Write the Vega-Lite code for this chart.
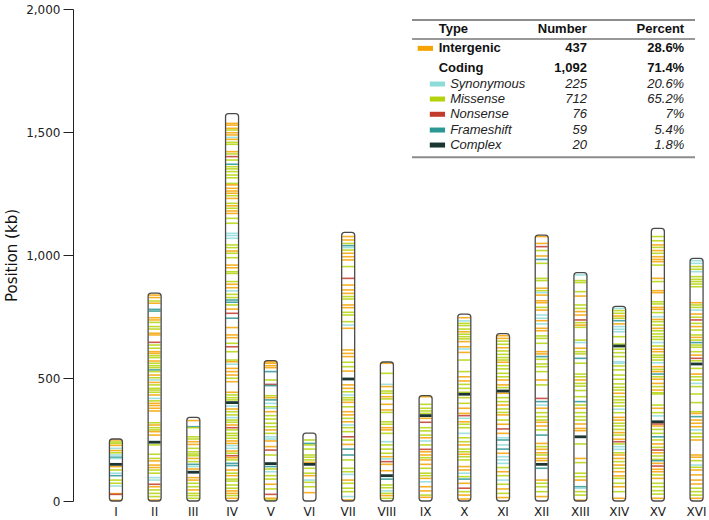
{
"$schema":"https://vega.github.io/schema/vega-lite/v6.json",
"width":636,"height":492,"autosize":"none",
"padding":{"left":73,"top":9,"right":0,"bottom":19},
"background":"white",
"config":{"view":{"stroke":null},"font":"DejaVu Sans"},
"datasets":{
"chr":[{"c":"I","len":252},{"c":"II","len":845},{"c":"III","len":340},{"c":"IV","len":1575},{"c":"V","len":571},{"c":"VI","len":276},{"c":"VII","len":1092},{"c":"VIII","len":565},{"c":"IX","len":428},{"c":"X","len":760},{"c":"XI","len":680},{"c":"XII","len":1081},{"c":"XIII","len":928},{"c":"XIV","len":791},{"c":"XV","len":1108},{"c":"XVI","len":986}],
"mut":[
{"c":"I","p":248,"t":"G"},{"c":"I","p":240,"t":"M"},{"c":"I","p":234,"t":"M"},{"c":"I","p":226,"t":"G"},{"c":"I","p":214,"t":"S"},{"c":"I","p":205,"t":"G"},{"c":"I","p":196,"t":"M"},{"c":"I","p":187,"t":"S"},{"c":"I","p":178,"t":"F"},{"c":"I","p":173,"t":"S"},{"c":"I","p":149,"t":"C"},{"c":"I","p":140,"t":"G"},{"c":"I","p":126,"t":"M"},{"c":"I","p":113,"t":"S"},{"c":"I","p":103,"t":"F"},{"c":"I","p":85,"t":"M"},{"c":"I","p":72,"t":"M"},{"c":"I","p":61,"t":"S"},{"c":"I","p":30,"t":"G"},{"c":"I","p":27,"t":"N"},{"c":"I","p":3,"t":"G"},
{"c":"II","p":837,"t":"G"},{"c":"II","p":827,"t":"G"},{"c":"II","p":813,"t":"M"},{"c":"II","p":804,"t":"G"},{"c":"II","p":779,"t":"F"},{"c":"II","p":772,"t":"F"},{"c":"II","p":745,"t":"G"},{"c":"II","p":736,"t":"G"},{"c":"II","p":726,"t":"M"},{"c":"II","p":709,"t":"M"},{"c":"II","p":699,"t":"M"},{"c":"II","p":682,"t":"G"},{"c":"II","p":675,"t":"G"},{"c":"II","p":645,"t":"N"},{"c":"II","p":634,"t":"M"},{"c":"II","p":621,"t":"M"},{"c":"II","p":607,"t":"G"},{"c":"II","p":600,"t":"G"},{"c":"II","p":591,"t":"M"},{"c":"II","p":583,"t":"M"},{"c":"II","p":569,"t":"G"},{"c":"II","p":560,"t":"M"},{"c":"II","p":550,"t":"M"},{"c":"II","p":542,"t":"M"},{"c":"II","p":533,"t":"F"},{"c":"II","p":526,"t":"M"},{"c":"II","p":512,"t":"G"},{"c":"II","p":501,"t":"M"},{"c":"II","p":492,"t":"S"},{"c":"II","p":482,"t":"G"},{"c":"II","p":472,"t":"M"},{"c":"II","p":458,"t":"M"},{"c":"II","p":451,"t":"M"},{"c":"II","p":442,"t":"M"},{"c":"II","p":431,"t":"G"},{"c":"II","p":417,"t":"S"},{"c":"II","p":407,"t":"M"},{"c":"II","p":397,"t":"G"},{"c":"II","p":388,"t":"G"},{"c":"II","p":377,"t":"G"},{"c":"II","p":366,"t":"G"},{"c":"II","p":318,"t":"M"},{"c":"II","p":309,"t":"G"},{"c":"II","p":298,"t":"M"},{"c":"II","p":289,"t":"M"},{"c":"II","p":282,"t":"G"},{"c":"II","p":268,"t":"G"},{"c":"II","p":239,"t":"C"},{"c":"II","p":228,"t":"M"},{"c":"II","p":190,"t":"M"},{"c":"II","p":173,"t":"M"},{"c":"II","p":163,"t":"G"},{"c":"II","p":146,"t":"G"},{"c":"II","p":136,"t":"G"},{"c":"II","p":126,"t":"M"},{"c":"II","p":113,"t":"M"},{"c":"II","p":95,"t":"S"},{"c":"II","p":85,"t":"S"},{"c":"II","p":68,"t":"N"},{"c":"II","p":58,"t":"G"},{"c":"II","p":45,"t":"M"},{"c":"II","p":31,"t":"M"},{"c":"II","p":18,"t":"M"},{"c":"II","p":4,"t":"G"},
{"c":"III","p":327,"t":"G"},{"c":"III","p":302,"t":"F"},{"c":"III","p":298,"t":"M"},{"c":"III","p":261,"t":"M"},{"c":"III","p":252,"t":"M"},{"c":"III","p":241,"t":"G"},{"c":"III","p":230,"t":"G"},{"c":"III","p":214,"t":"M"},{"c":"III","p":200,"t":"M"},{"c":"III","p":191,"t":"M"},{"c":"III","p":184,"t":"M"},{"c":"III","p":173,"t":"G"},{"c":"III","p":160,"t":"M"},{"c":"III","p":149,"t":"F"},{"c":"III","p":140,"t":"S"},{"c":"III","p":130,"t":"G"},{"c":"III","p":117,"t":"C"},{"c":"III","p":95,"t":"G"},{"c":"III","p":85,"t":"G"},{"c":"III","p":72,"t":"M"},{"c":"III","p":58,"t":"M"},{"c":"III","p":45,"t":"G"},{"c":"III","p":31,"t":"M"},{"c":"III","p":22,"t":"M"},{"c":"III","p":11,"t":"M"},
{"c":"IV","p":1535,"t":"G"},{"c":"IV","p":1528,"t":"G"},{"c":"IV","p":1515,"t":"G"},{"c":"IV","p":1508,"t":"M"},{"c":"IV","p":1497,"t":"G"},{"c":"IV","p":1488,"t":"G"},{"c":"IV","p":1478,"t":"S"},{"c":"IV","p":1470,"t":"G"},{"c":"IV","p":1458,"t":"M"},{"c":"IV","p":1450,"t":"M"},{"c":"IV","p":1420,"t":"G"},{"c":"IV","p":1411,"t":"M"},{"c":"IV","p":1400,"t":"N"},{"c":"IV","p":1386,"t":"M"},{"c":"IV","p":1369,"t":"F"},{"c":"IV","p":1359,"t":"M"},{"c":"IV","p":1350,"t":"M"},{"c":"IV","p":1339,"t":"M"},{"c":"IV","p":1325,"t":"M"},{"c":"IV","p":1314,"t":"M"},{"c":"IV","p":1291,"t":"M"},{"c":"IV","p":1285,"t":"G"},{"c":"IV","p":1271,"t":"G"},{"c":"IV","p":1260,"t":"G"},{"c":"IV","p":1251,"t":"G"},{"c":"IV","p":1241,"t":"M"},{"c":"IV","p":1230,"t":"G"},{"c":"IV","p":1210,"t":"M"},{"c":"IV","p":1200,"t":"G"},{"c":"IV","p":1190,"t":"M"},{"c":"IV","p":1179,"t":"G"},{"c":"IV","p":1169,"t":"G"},{"c":"IV","p":1149,"t":"M"},{"c":"IV","p":1129,"t":"M"},{"c":"IV","p":1088,"t":"S"},{"c":"IV","p":1079,"t":"S"},{"c":"IV","p":1068,"t":"S"},{"c":"IV","p":1041,"t":"M"},{"c":"IV","p":1030,"t":"M"},{"c":"IV","p":1016,"t":"G"},{"c":"IV","p":1007,"t":"M"},{"c":"IV","p":989,"t":"M"},{"c":"IV","p":959,"t":"G"},{"c":"IV","p":948,"t":"G"},{"c":"IV","p":932,"t":"M"},{"c":"IV","p":925,"t":"M"},{"c":"IV","p":892,"t":"M"},{"c":"IV","p":881,"t":"G"},{"c":"IV","p":867,"t":"G"},{"c":"IV","p":854,"t":"S"},{"c":"IV","p":840,"t":"M"},{"c":"IV","p":827,"t":"M"},{"c":"IV","p":817,"t":"F"},{"c":"IV","p":808,"t":"F"},{"c":"IV","p":797,"t":"M"},{"c":"IV","p":780,"t":"G"},{"c":"IV","p":763,"t":"N"},{"c":"IV","p":743,"t":"F"},{"c":"IV","p":705,"t":"G"},{"c":"IV","p":675,"t":"G"},{"c":"IV","p":664,"t":"G"},{"c":"IV","p":641,"t":"M"},{"c":"IV","p":627,"t":"N"},{"c":"IV","p":607,"t":"M"},{"c":"IV","p":573,"t":"M"},{"c":"IV","p":566,"t":"G"},{"c":"IV","p":556,"t":"S"},{"c":"IV","p":539,"t":"G"},{"c":"IV","p":526,"t":"G"},{"c":"IV","p":512,"t":"G"},{"c":"IV","p":499,"t":"M"},{"c":"IV","p":485,"t":"G"},{"c":"IV","p":442,"t":"G"},{"c":"IV","p":431,"t":"M"},{"c":"IV","p":420,"t":"M"},{"c":"IV","p":411,"t":"M"},{"c":"IV","p":400,"t":"C"},{"c":"IV","p":386,"t":"S"},{"c":"IV","p":374,"t":"G"},{"c":"IV","p":363,"t":"M"},{"c":"IV","p":350,"t":"M"},{"c":"IV","p":339,"t":"S"},{"c":"IV","p":329,"t":"M"},{"c":"IV","p":320,"t":"M"},{"c":"IV","p":309,"t":"G"},{"c":"IV","p":298,"t":"N"},{"c":"IV","p":289,"t":"M"},{"c":"IV","p":275,"t":"M"},{"c":"IV","p":266,"t":"M"},{"c":"IV","p":255,"t":"M"},{"c":"IV","p":244,"t":"G"},{"c":"IV","p":234,"t":"G"},{"c":"IV","p":225,"t":"S"},{"c":"IV","p":214,"t":"S"},{"c":"IV","p":203,"t":"G"},{"c":"IV","p":194,"t":"M"},{"c":"IV","p":184,"t":"N"},{"c":"IV","p":176,"t":"G"},{"c":"IV","p":167,"t":"M"},{"c":"IV","p":153,"t":"F"},{"c":"IV","p":144,"t":"F"},{"c":"IV","p":126,"t":"G"},{"c":"IV","p":113,"t":"M"},{"c":"IV","p":103,"t":"G"},{"c":"IV","p":89,"t":"M"},{"c":"IV","p":81,"t":"M"},{"c":"IV","p":65,"t":"M"},{"c":"IV","p":52,"t":"M"},{"c":"IV","p":41,"t":"G"},{"c":"IV","p":31,"t":"G"},{"c":"IV","p":22,"t":"M"},{"c":"IV","p":11,"t":"G"},
{"c":"V","p":566,"t":"G"},{"c":"V","p":560,"t":"G"},{"c":"V","p":550,"t":"G"},{"c":"V","p":542,"t":"G"},{"c":"V","p":526,"t":"F"},{"c":"V","p":492,"t":"M"},{"c":"V","p":474,"t":"N"},{"c":"V","p":469,"t":"F"},{"c":"V","p":428,"t":"M"},{"c":"V","p":420,"t":"G"},{"c":"V","p":411,"t":"F"},{"c":"V","p":397,"t":"S"},{"c":"V","p":383,"t":"M"},{"c":"V","p":377,"t":"S"},{"c":"V","p":363,"t":"G"},{"c":"V","p":347,"t":"M"},{"c":"V","p":333,"t":"M"},{"c":"V","p":316,"t":"M"},{"c":"V","p":302,"t":"M"},{"c":"V","p":289,"t":"G"},{"c":"V","p":275,"t":"M"},{"c":"V","p":261,"t":"S"},{"c":"V","p":252,"t":"S"},{"c":"V","p":244,"t":"G"},{"c":"V","p":221,"t":"G"},{"c":"V","p":207,"t":"N"},{"c":"V","p":187,"t":"M"},{"c":"V","p":152,"t":"C"},{"c":"V","p":140,"t":"F"},{"c":"V","p":130,"t":"M"},{"c":"V","p":119,"t":"S"},{"c":"V","p":103,"t":"M"},{"c":"V","p":89,"t":"M"},{"c":"V","p":68,"t":"G"},{"c":"V","p":49,"t":"M"},{"c":"V","p":27,"t":"N"},{"c":"V","p":11,"t":"G"},{"c":"V","p":4,"t":"M"},
{"c":"VI","p":248,"t":"M"},{"c":"VI","p":234,"t":"F"},{"c":"VI","p":228,"t":"M"},{"c":"VI","p":211,"t":"M"},{"c":"VI","p":187,"t":"M"},{"c":"VI","p":178,"t":"M"},{"c":"VI","p":167,"t":"M"},{"c":"VI","p":157,"t":"G"},{"c":"VI","p":149,"t":"C"},{"c":"VI","p":133,"t":"M"},{"c":"VI","p":113,"t":"M"},{"c":"VI","p":103,"t":"G"},{"c":"VI","p":85,"t":"S"},{"c":"VI","p":76,"t":"M"},{"c":"VI","p":58,"t":"M"},{"c":"VI","p":34,"t":"G"},
{"c":"VII","p":1075,"t":"G"},{"c":"VII","p":1061,"t":"G"},{"c":"VII","p":1047,"t":"M"},{"c":"VII","p":1038,"t":"F"},{"c":"VII","p":1030,"t":"S"},{"c":"VII","p":1020,"t":"M"},{"c":"VII","p":1007,"t":"G"},{"c":"VII","p":993,"t":"G"},{"c":"VII","p":980,"t":"G"},{"c":"VII","p":953,"t":"M"},{"c":"VII","p":905,"t":"N"},{"c":"VII","p":878,"t":"G"},{"c":"VII","p":858,"t":"G"},{"c":"VII","p":844,"t":"G"},{"c":"VII","p":831,"t":"M"},{"c":"VII","p":821,"t":"M"},{"c":"VII","p":797,"t":"G"},{"c":"VII","p":786,"t":"G"},{"c":"VII","p":767,"t":"M"},{"c":"VII","p":756,"t":"M"},{"c":"VII","p":729,"t":"M"},{"c":"VII","p":715,"t":"S"},{"c":"VII","p":702,"t":"G"},{"c":"VII","p":614,"t":"G"},{"c":"VII","p":600,"t":"G"},{"c":"VII","p":587,"t":"G"},{"c":"VII","p":564,"t":"M"},{"c":"VII","p":546,"t":"M"},{"c":"VII","p":528,"t":"G"},{"c":"VII","p":496,"t":"C"},{"c":"VII","p":472,"t":"G"},{"c":"VII","p":458,"t":"G"},{"c":"VII","p":444,"t":"M"},{"c":"VII","p":431,"t":"S"},{"c":"VII","p":420,"t":"M"},{"c":"VII","p":411,"t":"M"},{"c":"VII","p":401,"t":"G"},{"c":"VII","p":383,"t":"M"},{"c":"VII","p":363,"t":"G"},{"c":"VII","p":350,"t":"G"},{"c":"VII","p":336,"t":"M"},{"c":"VII","p":322,"t":"G"},{"c":"VII","p":309,"t":"S"},{"c":"VII","p":298,"t":"M"},{"c":"VII","p":282,"t":"M"},{"c":"VII","p":261,"t":"N"},{"c":"VII","p":248,"t":"M"},{"c":"VII","p":230,"t":"G"},{"c":"VII","p":211,"t":"F"},{"c":"VII","p":187,"t":"F"},{"c":"VII","p":167,"t":"M"},{"c":"VII","p":133,"t":"M"},{"c":"VII","p":119,"t":"M"},{"c":"VII","p":108,"t":"S"},{"c":"VII","p":85,"t":"G"},{"c":"VII","p":72,"t":"M"},{"c":"VII","p":52,"t":"M"},{"c":"VII","p":38,"t":"M"},{"c":"VII","p":18,"t":"S"},{"c":"VII","p":4,"t":"G"},
{"c":"VIII","p":560,"t":"G"},{"c":"VIII","p":519,"t":"M"},{"c":"VIII","p":474,"t":"S"},{"c":"VIII","p":465,"t":"G"},{"c":"VIII","p":447,"t":"M"},{"c":"VIII","p":438,"t":"M"},{"c":"VIII","p":424,"t":"G"},{"c":"VIII","p":415,"t":"M"},{"c":"VIII","p":393,"t":"G"},{"c":"VIII","p":370,"t":"G"},{"c":"VIII","p":360,"t":"M"},{"c":"VIII","p":322,"t":"M"},{"c":"VIII","p":312,"t":"M"},{"c":"VIII","p":298,"t":"G"},{"c":"VIII","p":289,"t":"G"},{"c":"VIII","p":275,"t":"M"},{"c":"VIII","p":241,"t":"S"},{"c":"VIII","p":228,"t":"M"},{"c":"VIII","p":211,"t":"M"},{"c":"VIII","p":194,"t":"M"},{"c":"VIII","p":180,"t":"G"},{"c":"VIII","p":171,"t":"S"},{"c":"VIII","p":160,"t":"N"},{"c":"VIII","p":149,"t":"G"},{"c":"VIII","p":123,"t":"G"},{"c":"VIII","p":103,"t":"C"},{"c":"VIII","p":89,"t":"F"},{"c":"VIII","p":65,"t":"M"},{"c":"VIII","p":54,"t":"M"},{"c":"VIII","p":41,"t":"S"},{"c":"VIII","p":31,"t":"M"},{"c":"VIII","p":22,"t":"G"},{"c":"VIII","p":11,"t":"M"},
{"c":"IX","p":424,"t":"G"},{"c":"IX","p":393,"t":"M"},{"c":"IX","p":377,"t":"M"},{"c":"IX","p":366,"t":"M"},{"c":"IX","p":356,"t":"M"},{"c":"IX","p":347,"t":"C"},{"c":"IX","p":336,"t":"G"},{"c":"IX","p":320,"t":"N"},{"c":"IX","p":298,"t":"M"},{"c":"IX","p":285,"t":"M"},{"c":"IX","p":268,"t":"M"},{"c":"IX","p":257,"t":"G"},{"c":"IX","p":244,"t":"S"},{"c":"IX","p":228,"t":"M"},{"c":"IX","p":210,"t":"N"},{"c":"IX","p":200,"t":"G"},{"c":"IX","p":187,"t":"G"},{"c":"IX","p":176,"t":"M"},{"c":"IX","p":167,"t":"G"},{"c":"IX","p":149,"t":"G"},{"c":"IX","p":133,"t":"M"},{"c":"IX","p":113,"t":"M"},{"c":"IX","p":103,"t":"M"},{"c":"IX","p":92,"t":"G"},{"c":"IX","p":78,"t":"S"},{"c":"IX","p":58,"t":"G"},{"c":"IX","p":41,"t":"G"},{"c":"IX","p":24,"t":"M"},{"c":"IX","p":15,"t":"G"},
{"c":"X","p":745,"t":"G"},{"c":"X","p":732,"t":"S"},{"c":"X","p":722,"t":"M"},{"c":"X","p":713,"t":"M"},{"c":"X","p":699,"t":"M"},{"c":"X","p":688,"t":"G"},{"c":"X","p":678,"t":"M"},{"c":"X","p":668,"t":"M"},{"c":"X","p":659,"t":"M"},{"c":"X","p":648,"t":"G"},{"c":"X","p":627,"t":"G"},{"c":"X","p":618,"t":"S"},{"c":"X","p":604,"t":"G"},{"c":"X","p":573,"t":"M"},{"c":"X","p":526,"t":"M"},{"c":"X","p":505,"t":"G"},{"c":"X","p":488,"t":"G"},{"c":"X","p":474,"t":"M"},{"c":"X","p":458,"t":"M"},{"c":"X","p":442,"t":"M"},{"c":"X","p":434,"t":"C"},{"c":"X","p":420,"t":"M"},{"c":"X","p":397,"t":"M"},{"c":"X","p":377,"t":"G"},{"c":"X","p":356,"t":"G"},{"c":"X","p":347,"t":"N"},{"c":"X","p":336,"t":"S"},{"c":"X","p":322,"t":"G"},{"c":"X","p":312,"t":"M"},{"c":"X","p":298,"t":"M"},{"c":"X","p":275,"t":"S"},{"c":"X","p":257,"t":"M"},{"c":"X","p":241,"t":"M"},{"c":"X","p":228,"t":"G"},{"c":"X","p":211,"t":"M"},{"c":"X","p":200,"t":"M"},{"c":"X","p":190,"t":"G"},{"c":"X","p":180,"t":"M"},{"c":"X","p":167,"t":"M"},{"c":"X","p":140,"t":"G"},{"c":"X","p":126,"t":"G"},{"c":"X","p":113,"t":"S"},{"c":"X","p":99,"t":"M"},{"c":"X","p":89,"t":"F"},{"c":"X","p":72,"t":"G"},{"c":"X","p":52,"t":"N"},{"c":"X","p":38,"t":"M"},{"c":"X","p":24,"t":"G"},{"c":"X","p":8,"t":"G"},
{"c":"XI","p":672,"t":"G"},{"c":"XI","p":661,"t":"G"},{"c":"XI","p":650,"t":"M"},{"c":"XI","p":637,"t":"M"},{"c":"XI","p":623,"t":"G"},{"c":"XI","p":610,"t":"M"},{"c":"XI","p":596,"t":"M"},{"c":"XI","p":583,"t":"M"},{"c":"XI","p":573,"t":"M"},{"c":"XI","p":564,"t":"G"},{"c":"XI","p":550,"t":"M"},{"c":"XI","p":537,"t":"M"},{"c":"XI","p":519,"t":"M"},{"c":"XI","p":505,"t":"M"},{"c":"XI","p":492,"t":"G"},{"c":"XI","p":472,"t":"G"},{"c":"XI","p":461,"t":"M"},{"c":"XI","p":447,"t":"C"},{"c":"XI","p":438,"t":"G"},{"c":"XI","p":420,"t":"M"},{"c":"XI","p":404,"t":"M"},{"c":"XI","p":390,"t":"G"},{"c":"XI","p":374,"t":"M"},{"c":"XI","p":360,"t":"M"},{"c":"XI","p":350,"t":"G"},{"c":"XI","p":329,"t":"M"},{"c":"XI","p":312,"t":"G"},{"c":"XI","p":293,"t":"N"},{"c":"XI","p":275,"t":"G"},{"c":"XI","p":257,"t":"S"},{"c":"XI","p":248,"t":"F"},{"c":"XI","p":228,"t":"S"},{"c":"XI","p":211,"t":"F"},{"c":"XI","p":194,"t":"G"},{"c":"XI","p":180,"t":"S"},{"c":"XI","p":167,"t":"S"},{"c":"XI","p":153,"t":"S"},{"c":"XI","p":136,"t":"M"},{"c":"XI","p":119,"t":"G"},{"c":"XI","p":103,"t":"M"},{"c":"XI","p":85,"t":"S"},{"c":"XI","p":68,"t":"M"},{"c":"XI","p":49,"t":"G"},{"c":"XI","p":31,"t":"M"},{"c":"XI","p":14,"t":"G"},
{"c":"XII","p":1075,"t":"G"},{"c":"XII","p":1047,"t":"G"},{"c":"XII","p":1034,"t":"N"},{"c":"XII","p":1018,"t":"M"},{"c":"XII","p":996,"t":"G"},{"c":"XII","p":982,"t":"F"},{"c":"XII","p":966,"t":"M"},{"c":"XII","p":905,"t":"M"},{"c":"XII","p":896,"t":"M"},{"c":"XII","p":865,"t":"G"},{"c":"XII","p":855,"t":"M"},{"c":"XII","p":847,"t":"S"},{"c":"XII","p":837,"t":"G"},{"c":"XII","p":814,"t":"G"},{"c":"XII","p":806,"t":"G"},{"c":"XII","p":787,"t":"M"},{"c":"XII","p":776,"t":"G"},{"c":"XII","p":756,"t":"S"},{"c":"XII","p":743,"t":"S"},{"c":"XII","p":733,"t":"G"},{"c":"XII","p":720,"t":"S"},{"c":"XII","p":702,"t":"G"},{"c":"XII","p":692,"t":"G"},{"c":"XII","p":671,"t":"M"},{"c":"XII","p":661,"t":"M"},{"c":"XII","p":641,"t":"M"},{"c":"XII","p":607,"t":"G"},{"c":"XII","p":598,"t":"G"},{"c":"XII","p":587,"t":"F"},{"c":"XII","p":576,"t":"M"},{"c":"XII","p":557,"t":"M"},{"c":"XII","p":546,"t":"M"},{"c":"XII","p":526,"t":"M"},{"c":"XII","p":492,"t":"G"},{"c":"XII","p":472,"t":"M"},{"c":"XII","p":417,"t":"N"},{"c":"XII","p":404,"t":"F"},{"c":"XII","p":390,"t":"S"},{"c":"XII","p":377,"t":"G"},{"c":"XII","p":359,"t":"M"},{"c":"XII","p":343,"t":"M"},{"c":"XII","p":329,"t":"M"},{"c":"XII","p":320,"t":"G"},{"c":"XII","p":305,"t":"G"},{"c":"XII","p":289,"t":"M"},{"c":"XII","p":268,"t":"F"},{"c":"XII","p":234,"t":"G"},{"c":"XII","p":221,"t":"M"},{"c":"XII","p":210,"t":"G"},{"c":"XII","p":196,"t":"G"},{"c":"XII","p":187,"t":"M"},{"c":"XII","p":173,"t":"G"},{"c":"XII","p":164,"t":"G"},{"c":"XII","p":149,"t":"C"},{"c":"XII","p":133,"t":"F"},{"c":"XII","p":85,"t":"G"},{"c":"XII","p":72,"t":"M"},{"c":"XII","p":58,"t":"M"},{"c":"XII","p":38,"t":"M"},{"c":"XII","p":18,"t":"G"},
{"c":"XIII","p":919,"t":"S"},{"c":"XIII","p":896,"t":"M"},{"c":"XIII","p":888,"t":"M"},{"c":"XIII","p":851,"t":"M"},{"c":"XIII","p":833,"t":"G"},{"c":"XIII","p":797,"t":"M"},{"c":"XIII","p":783,"t":"M"},{"c":"XIII","p":770,"t":"G"},{"c":"XIII","p":756,"t":"G"},{"c":"XIII","p":736,"t":"N"},{"c":"XIII","p":725,"t":"M"},{"c":"XIII","p":715,"t":"G"},{"c":"XIII","p":706,"t":"M"},{"c":"XIII","p":654,"t":"M"},{"c":"XIII","p":644,"t":"S"},{"c":"XIII","p":621,"t":"G"},{"c":"XIII","p":607,"t":"M"},{"c":"XIII","p":598,"t":"M"},{"c":"XIII","p":580,"t":"F"},{"c":"XIII","p":560,"t":"M"},{"c":"XIII","p":516,"t":"M"},{"c":"XIII","p":505,"t":"M"},{"c":"XIII","p":492,"t":"G"},{"c":"XIII","p":478,"t":"M"},{"c":"XIII","p":467,"t":"M"},{"c":"XIII","p":449,"t":"M"},{"c":"XIII","p":424,"t":"M"},{"c":"XIII","p":404,"t":"F"},{"c":"XIII","p":390,"t":"M"},{"c":"XIII","p":377,"t":"G"},{"c":"XIII","p":359,"t":"M"},{"c":"XIII","p":343,"t":"M"},{"c":"XIII","p":329,"t":"M"},{"c":"XIII","p":313,"t":"G"},{"c":"XIII","p":295,"t":"G"},{"c":"XIII","p":286,"t":"G"},{"c":"XIII","p":261,"t":"C"},{"c":"XIII","p":232,"t":"M"},{"c":"XIII","p":173,"t":"G"},{"c":"XIII","p":156,"t":"M"},{"c":"XIII","p":113,"t":"M"},{"c":"XIII","p":99,"t":"M"},{"c":"XIII","p":85,"t":"G"},{"c":"XIII","p":58,"t":"F"},{"c":"XIII","p":52,"t":"S"},{"c":"XIII","p":38,"t":"M"},{"c":"XIII","p":24,"t":"M"},{"c":"XIII","p":3,"t":"G"},
{"c":"XIV","p":783,"t":"S"},{"c":"XIV","p":774,"t":"M"},{"c":"XIV","p":763,"t":"M"},{"c":"XIV","p":752,"t":"G"},{"c":"XIV","p":743,"t":"M"},{"c":"XIV","p":733,"t":"F"},{"c":"XIV","p":720,"t":"G"},{"c":"XIV","p":709,"t":"S"},{"c":"XIV","p":698,"t":"S"},{"c":"XIV","p":688,"t":"S"},{"c":"XIV","p":668,"t":"M"},{"c":"XIV","p":638,"t":"M"},{"c":"XIV","p":630,"t":"C"},{"c":"XIV","p":617,"t":"M"},{"c":"XIV","p":603,"t":"M"},{"c":"XIV","p":587,"t":"M"},{"c":"XIV","p":566,"t":"S"},{"c":"XIV","p":560,"t":"S"},{"c":"XIV","p":549,"t":"M"},{"c":"XIV","p":533,"t":"M"},{"c":"XIV","p":512,"t":"M"},{"c":"XIV","p":495,"t":"M"},{"c":"XIV","p":476,"t":"M"},{"c":"XIV","p":462,"t":"M"},{"c":"XIV","p":451,"t":"M"},{"c":"XIV","p":438,"t":"G"},{"c":"XIV","p":424,"t":"M"},{"c":"XIV","p":411,"t":"M"},{"c":"XIV","p":400,"t":"M"},{"c":"XIV","p":386,"t":"M"},{"c":"XIV","p":373,"t":"S"},{"c":"XIV","p":359,"t":"M"},{"c":"XIV","p":340,"t":"G"},{"c":"XIV","p":329,"t":"G"},{"c":"XIV","p":316,"t":"M"},{"c":"XIV","p":305,"t":"M"},{"c":"XIV","p":291,"t":"M"},{"c":"XIV","p":278,"t":"G"},{"c":"XIV","p":268,"t":"M"},{"c":"XIV","p":251,"t":"G"},{"c":"XIV","p":241,"t":"N"},{"c":"XIV","p":232,"t":"M"},{"c":"XIV","p":221,"t":"S"},{"c":"XIV","p":210,"t":"S"},{"c":"XIV","p":196,"t":"M"},{"c":"XIV","p":187,"t":"G"},{"c":"XIV","p":173,"t":"G"},{"c":"XIV","p":160,"t":"M"},{"c":"XIV","p":146,"t":"G"},{"c":"XIV","p":133,"t":"M"},{"c":"XIV","p":119,"t":"G"},{"c":"XIV","p":102,"t":"G"},{"c":"XIV","p":92,"t":"M"},{"c":"XIV","p":72,"t":"M"},{"c":"XIV","p":58,"t":"G"},{"c":"XIV","p":38,"t":"M"},{"c":"XIV","p":11,"t":"G"},
{"c":"XV","p":1075,"t":"M"},{"c":"XV","p":1058,"t":"M"},{"c":"XV","p":1041,"t":"G"},{"c":"XV","p":1031,"t":"M"},{"c":"XV","p":1018,"t":"G"},{"c":"XV","p":1007,"t":"M"},{"c":"XV","p":993,"t":"G"},{"c":"XV","p":982,"t":"G"},{"c":"XV","p":973,"t":"G"},{"c":"XV","p":959,"t":"M"},{"c":"XV","p":905,"t":"G"},{"c":"XV","p":892,"t":"M"},{"c":"XV","p":855,"t":"G"},{"c":"XV","p":847,"t":"G"},{"c":"XV","p":810,"t":"M"},{"c":"XV","p":801,"t":"M"},{"c":"XV","p":787,"t":"G"},{"c":"XV","p":779,"t":"G"},{"c":"XV","p":766,"t":"M"},{"c":"XV","p":749,"t":"S"},{"c":"XV","p":738,"t":"G"},{"c":"XV","p":729,"t":"M"},{"c":"XV","p":715,"t":"M"},{"c":"XV","p":702,"t":"G"},{"c":"XV","p":692,"t":"M"},{"c":"XV","p":679,"t":"M"},{"c":"XV","p":668,"t":"M"},{"c":"XV","p":657,"t":"M"},{"c":"XV","p":644,"t":"S"},{"c":"XV","p":630,"t":"M"},{"c":"XV","p":617,"t":"G"},{"c":"XV","p":607,"t":"G"},{"c":"XV","p":593,"t":"M"},{"c":"XV","p":584,"t":"M"},{"c":"XV","p":573,"t":"M"},{"c":"XV","p":562,"t":"S"},{"c":"XV","p":546,"t":"G"},{"c":"XV","p":535,"t":"M"},{"c":"XV","p":526,"t":"G"},{"c":"XV","p":516,"t":"F"},{"c":"XV","p":505,"t":"M"},{"c":"XV","p":495,"t":"G"},{"c":"XV","p":478,"t":"G"},{"c":"XV","p":465,"t":"M"},{"c":"XV","p":451,"t":"G"},{"c":"XV","p":440,"t":"M"},{"c":"XV","p":435,"t":"M"},{"c":"XV","p":390,"t":"M"},{"c":"XV","p":377,"t":"G"},{"c":"XV","p":359,"t":"M"},{"c":"XV","p":346,"t":"S"},{"c":"XV","p":322,"t":"C"},{"c":"XV","p":313,"t":"N"},{"c":"XV","p":305,"t":"G"},{"c":"XV","p":291,"t":"M"},{"c":"XV","p":275,"t":"M"},{"c":"XV","p":261,"t":"F"},{"c":"XV","p":248,"t":"M"},{"c":"XV","p":232,"t":"G"},{"c":"XV","p":218,"t":"M"},{"c":"XV","p":207,"t":"N"},{"c":"XV","p":196,"t":"G"},{"c":"XV","p":183,"t":"M"},{"c":"XV","p":169,"t":"M"},{"c":"XV","p":164,"t":"F"},{"c":"XV","p":153,"t":"G"},{"c":"XV","p":142,"t":"N"},{"c":"XV","p":129,"t":"G"},{"c":"XV","p":119,"t":"G"},{"c":"XV","p":106,"t":"M"},{"c":"XV","p":92,"t":"G"},{"c":"XV","p":72,"t":"M"},{"c":"XV","p":58,"t":"M"},{"c":"XV","p":42,"t":"M"},{"c":"XV","p":28,"t":"M"},{"c":"XV","p":11,"t":"G"},
{"c":"XVI","p":977,"t":"S"},{"c":"XVI","p":966,"t":"S"},{"c":"XVI","p":953,"t":"M"},{"c":"XVI","p":942,"t":"M"},{"c":"XVI","p":932,"t":"S"},{"c":"XVI","p":912,"t":"M"},{"c":"XVI","p":901,"t":"M"},{"c":"XVI","p":892,"t":"M"},{"c":"XVI","p":882,"t":"M"},{"c":"XVI","p":871,"t":"M"},{"c":"XVI","p":806,"t":"G"},{"c":"XVI","p":797,"t":"M"},{"c":"XVI","p":787,"t":"M"},{"c":"XVI","p":776,"t":"S"},{"c":"XVI","p":760,"t":"G"},{"c":"XVI","p":747,"t":"M"},{"c":"XVI","p":736,"t":"N"},{"c":"XVI","p":722,"t":"M"},{"c":"XVI","p":709,"t":"G"},{"c":"XVI","p":695,"t":"M"},{"c":"XVI","p":675,"t":"M"},{"c":"XVI","p":665,"t":"G"},{"c":"XVI","p":654,"t":"M"},{"c":"XVI","p":644,"t":"F"},{"c":"XVI","p":634,"t":"M"},{"c":"XVI","p":625,"t":"M"},{"c":"XVI","p":607,"t":"M"},{"c":"XVI","p":593,"t":"G"},{"c":"XVI","p":580,"t":"N"},{"c":"XVI","p":570,"t":"M"},{"c":"XVI","p":557,"t":"C"},{"c":"XVI","p":539,"t":"M"},{"c":"XVI","p":516,"t":"G"},{"c":"XVI","p":505,"t":"M"},{"c":"XVI","p":492,"t":"M"},{"c":"XVI","p":478,"t":"S"},{"c":"XVI","p":465,"t":"M"},{"c":"XVI","p":435,"t":"M"},{"c":"XVI","p":400,"t":"M"},{"c":"XVI","p":363,"t":"M"},{"c":"XVI","p":356,"t":"G"},{"c":"XVI","p":343,"t":"F"},{"c":"XVI","p":329,"t":"G"},{"c":"XVI","p":316,"t":"G"},{"c":"XVI","p":302,"t":"G"},{"c":"XVI","p":289,"t":"S"},{"c":"XVI","p":275,"t":"M"},{"c":"XVI","p":261,"t":"M"},{"c":"XVI","p":248,"t":"G"},{"c":"XVI","p":187,"t":"G"},{"c":"XVI","p":178,"t":"G"},{"c":"XVI","p":164,"t":"M"},{"c":"XVI","p":146,"t":"S"},{"c":"XVI","p":137,"t":"M"},{"c":"XVI","p":126,"t":"G"},{"c":"XVI","p":106,"t":"G"},{"c":"XVI","p":85,"t":"G"},{"c":"XVI","p":69,"t":"G"},{"c":"XVI","p":52,"t":"M"},{"c":"XVI","p":38,"t":"M"},{"c":"XVI","p":24,"t":"M"},{"c":"XVI","p":11,"t":"G"}
]},
"layer":[
{"layer":[
{"data":{"name":"chr"},"mark":{"type":"bar","fill":"white","cornerRadius":3},
"encoding":{
"x":{"field":"c","type":"nominal","sort":null,"scale":{"domain":["I","II","III","IV","V","VI","VII","VIII","IX","X","XI","XII","XIII","XIV","XV","XVI"],"paddingInner":0.664,"paddingOuter":0.547,"align":0.86},"axis":{"title":null,"domain":false,"ticks":false,"grid":false,"labelFontSize":12,"labelPadding":5,"labelColor":"#222","labelFont":"DejaVu Sans","labelAngle":0}},
"y":{"field":"len","type":"quantitative","scale":{"domain":[0,2000],"nice":false},"axis":{"title":"Position (kb)","values":[0,500,1000,1500,2000],"format":",.0f","grid":false,"domainColor":"#222","tickColor":"#222","tickSize":10,"labelFontSize":12,"labelColor":"#222","labelPadding":3,"labelFlush":false,"labelFont":"DejaVu Sans","titleFont":"DejaVu Sans","titleFontSize":15,"titleFontWeight":"normal","titleColor":"#111","titlePadding":6}},
"y2":{"datum":0}}},
{"data":{"name":"mut"},"transform":[{"filter":"datum.t != 'C'"}],"mark":{"type":"tick","thickness":1.6,"size":12,"opacity":0.85},
"encoding":{
"x":{"field":"c","type":"nominal","sort":null,"scale":{"domain":["I","II","III","IV","V","VI","VII","VIII","IX","X","XI","XII","XIII","XIV","XV","XVI"],"paddingInner":0.664,"paddingOuter":0.547,"align":0.86},"axis":{"title":null,"domain":false,"ticks":false,"grid":false,"labelFontSize":12,"labelPadding":5,"labelColor":"#222","labelFont":"DejaVu Sans","labelAngle":0}},
"y":{"field":"p","type":"quantitative","scale":{"domain":[0,2000],"nice":false},"axis":{"title":"Position (kb)","values":[0,500,1000,1500,2000],"format":",.0f","grid":false,"domainColor":"#222","tickColor":"#222","tickSize":10,"labelFontSize":12,"labelColor":"#222","labelPadding":3,"labelFlush":false,"labelFont":"DejaVu Sans","titleFont":"DejaVu Sans","titleFontSize":15,"titleFontWeight":"normal","titleColor":"#111","titlePadding":6}},
"color":{"field":"t","type":"nominal","scale":{"domain":["G","S","M","N","F","C"],"range":["#F4A300","#8EDCDA","#B5D30C","#C23B2C","#2B9893","#1B3533"]},"legend":null}}},
{"data":{"name":"mut"},"transform":[{"filter":"datum.t == 'C'"}],"mark":{"type":"tick","thickness":2.8,"size":12,"opacity":1},
"encoding":{
"x":{"field":"c","type":"nominal","sort":null,"scale":{"domain":["I","II","III","IV","V","VI","VII","VIII","IX","X","XI","XII","XIII","XIV","XV","XVI"],"paddingInner":0.664,"paddingOuter":0.547,"align":0.86},"axis":{"title":null,"domain":false,"ticks":false,"grid":false,"labelFontSize":12,"labelPadding":5,"labelColor":"#222","labelFont":"DejaVu Sans","labelAngle":0}},
"y":{"field":"p","type":"quantitative","scale":{"domain":[0,2000],"nice":false},"axis":{"title":"Position (kb)","values":[0,500,1000,1500,2000],"format":",.0f","grid":false,"domainColor":"#222","tickColor":"#222","tickSize":10,"labelFontSize":12,"labelColor":"#222","labelPadding":3,"labelFlush":false,"labelFont":"DejaVu Sans","titleFont":"DejaVu Sans","titleFontSize":15,"titleFontWeight":"normal","titleColor":"#111","titlePadding":6}},
"color":{"field":"t","type":"nominal","scale":{"domain":["G","S","M","N","F","C"],"range":["#F4A300","#8EDCDA","#B5D30C","#C23B2C","#2B9893","#1B3533"]},"legend":null}}},
{"data":{"name":"chr"},"mark":{"type":"bar","fillOpacity":0,"fill":"white","stroke":"#4a4a4a","strokeWidth":1.3,"cornerRadius":3},
"encoding":{
"x":{"field":"c","type":"nominal","sort":null,"scale":{"domain":["I","II","III","IV","V","VI","VII","VIII","IX","X","XI","XII","XIII","XIV","XV","XVI"],"paddingInner":0.664,"paddingOuter":0.547,"align":0.86},"axis":{"title":null,"domain":false,"ticks":false,"grid":false,"labelFontSize":12,"labelPadding":5,"labelColor":"#222","labelFont":"DejaVu Sans","labelAngle":0}},
"y":{"field":"len","type":"quantitative","scale":{"domain":[0,2000],"nice":false},"axis":{"title":"Position (kb)","values":[0,500,1000,1500,2000],"format":",.0f","grid":false,"domainColor":"#222","tickColor":"#222","tickSize":10,"labelFontSize":12,"labelColor":"#222","labelPadding":3,"labelFlush":false,"labelFont":"DejaVu Sans","titleFont":"DejaVu Sans","titleFontSize":15,"titleFontWeight":"normal","titleColor":"#111","titlePadding":6}},
"y2":{"datum":0}}}
]},
{"layer":[
{"data":{"values":[{"y":1955},{"y":1397}]},"mark":{"type":"rule","strokeWidth":2,"color":"#8c8c8c"},
"encoding":{"x":{"datum":0.533,"type":"quantitative","scale":{"domain":[0,1],"nice":false,"zero":false},"axis":null},"x2":{"datum":0.978},"y":{"field":"y","type":"quantitative","scale":{"domain":[0,2000],"nice":false},"axis":{"title":"Position (kb)","values":[0,500,1000,1500,2000],"format":",.0f","grid":false,"domainColor":"#222","tickColor":"#222","tickSize":10,"labelFontSize":12,"labelColor":"#222","labelPadding":3,"labelFlush":false,"labelFont":"DejaVu Sans","titleFont":"DejaVu Sans","titleFontSize":15,"titleFontWeight":"normal","titleColor":"#111","titlePadding":6}}}},
{"data":{"values":[{"y":1878}]},"mark":{"type":"rule","strokeWidth":1,"color":"#333"},
"encoding":{"x":{"datum":0.533,"type":"quantitative","scale":{"domain":[0,1],"nice":false,"zero":false},"axis":null},"x2":{"datum":0.978},"y":{"field":"y","type":"quantitative","scale":{"domain":[0,2000],"nice":false},"axis":{"title":"Position (kb)","values":[0,500,1000,1500,2000],"format":",.0f","grid":false,"domainColor":"#222","tickColor":"#222","tickSize":10,"labelFontSize":12,"labelColor":"#222","labelPadding":3,"labelFlush":false,"labelFont":"DejaVu Sans","titleFont":"DejaVu Sans","titleFontSize":15,"titleFontWeight":"normal","titleColor":"#111","titlePadding":6}}}},
{"data":{"values":[{"t":"G","x":0.542,"x2":0.566,"y":1840},{"t":"S","x":0.561,"x2":0.585,"y":1695},{"t":"M","x":0.561,"x2":0.585,"y":1634},{"t":"N","x":0.561,"x2":0.585,"y":1572},{"t":"F","x":0.561,"x2":0.585,"y":1508},{"t":"C","x":0.561,"x2":0.585,"y":1447}]},"mark":{"type":"rule","strokeWidth":5},
"encoding":{"x":{"field":"x","type":"quantitative","scale":{"domain":[0,1],"nice":false,"zero":false},"axis":null},"x2":{"field":"x2"},"y":{"field":"y","type":"quantitative","scale":{"domain":[0,2000],"nice":false},"axis":{"title":"Position (kb)","values":[0,500,1000,1500,2000],"format":",.0f","grid":false,"domainColor":"#222","tickColor":"#222","tickSize":10,"labelFontSize":12,"labelColor":"#222","labelPadding":3,"labelFlush":false,"labelFont":"DejaVu Sans","titleFont":"DejaVu Sans","titleFontSize":15,"titleFontWeight":"normal","titleColor":"#111","titlePadding":6}},
"color":{"field":"t","type":"nominal","scale":{"domain":["G","S","M","N","F","C"],"range":["#F4A300","#8EDCDA","#B5D30C","#C23B2C","#2B9893","#1B3533"]},"legend":null}}},
{"data":{"values":[{"lab":"Type","x":0.575,"y":1919},{"lab":"Intergenic","x":0.575,"y":1840},{"lab":"Coding","x":0.575,"y":1761}]},"mark":{"type":"text","font":"Liberation Sans","fontSize":13,"fontWeight":"bold","align":"left","baseline":"middle","color":"#111"},
"encoding":{"x":{"field":"x","type":"quantitative","scale":{"domain":[0,1],"nice":false,"zero":false},"axis":null},"y":{"field":"y","type":"quantitative","scale":{"domain":[0,2000],"nice":false},"axis":{"title":"Position (kb)","values":[0,500,1000,1500,2000],"format":",.0f","grid":false,"domainColor":"#222","tickColor":"#222","tickSize":10,"labelFontSize":12,"labelColor":"#222","labelPadding":3,"labelFlush":false,"labelFont":"DejaVu Sans","titleFont":"DejaVu Sans","titleFontSize":15,"titleFontWeight":"normal","titleColor":"#111","titlePadding":6}},"text":{"field":"lab"}}},
{"data":{"values":[{"lab":"Number","x":0.808,"y":1919},{"lab":"Percent","x":0.961,"y":1919},{"lab":"437","x":0.808,"y":1840},{"lab":"28.6%","x":0.961,"y":1840},{"lab":"1,092","x":0.808,"y":1761},{"lab":"71.4%","x":0.961,"y":1761}]},"mark":{"type":"text","font":"Liberation Sans","fontSize":13,"fontWeight":"bold","align":"right","baseline":"middle","color":"#111"},
"encoding":{"x":{"field":"x","type":"quantitative","scale":{"domain":[0,1],"nice":false,"zero":false},"axis":null},"y":{"field":"y","type":"quantitative","scale":{"domain":[0,2000],"nice":false},"axis":{"title":"Position (kb)","values":[0,500,1000,1500,2000],"format":",.0f","grid":false,"domainColor":"#222","tickColor":"#222","tickSize":10,"labelFontSize":12,"labelColor":"#222","labelPadding":3,"labelFlush":false,"labelFont":"DejaVu Sans","titleFont":"DejaVu Sans","titleFontSize":15,"titleFontWeight":"normal","titleColor":"#111","titlePadding":6}},"text":{"field":"lab"}}},
{"data":{"values":[{"lab":"Synonymous","x":0.593,"y":1695},{"lab":"Missense","x":0.593,"y":1634},{"lab":"Nonsense","x":0.593,"y":1572},{"lab":"Frameshift","x":0.593,"y":1508},{"lab":"Complex","x":0.593,"y":1447}]},"mark":{"type":"text","font":"Liberation Sans","fontSize":13,"fontStyle":"italic","align":"left","baseline":"middle","color":"#222"},
"encoding":{"x":{"field":"x","type":"quantitative","scale":{"domain":[0,1],"nice":false,"zero":false},"axis":null},"y":{"field":"y","type":"quantitative","scale":{"domain":[0,2000],"nice":false},"axis":{"title":"Position (kb)","values":[0,500,1000,1500,2000],"format":",.0f","grid":false,"domainColor":"#222","tickColor":"#222","tickSize":10,"labelFontSize":12,"labelColor":"#222","labelPadding":3,"labelFlush":false,"labelFont":"DejaVu Sans","titleFont":"DejaVu Sans","titleFontSize":15,"titleFontWeight":"normal","titleColor":"#111","titlePadding":6}},"text":{"field":"lab"}}},
{"data":{"values":[{"lab":"225","x":0.808,"y":1695},{"lab":"20.6%","x":0.961,"y":1695},{"lab":"712","x":0.808,"y":1634},{"lab":"65.2%","x":0.961,"y":1634},{"lab":"76","x":0.808,"y":1572},{"lab":"7%","x":0.961,"y":1572},{"lab":"59","x":0.808,"y":1508},{"lab":"5.4%","x":0.961,"y":1508},{"lab":"20","x":0.808,"y":1447},{"lab":"1.8%","x":0.961,"y":1447}]},"mark":{"type":"text","font":"Liberation Sans","fontSize":13,"fontStyle":"italic","align":"right","baseline":"middle","color":"#222"},
"encoding":{"x":{"field":"x","type":"quantitative","scale":{"domain":[0,1],"nice":false,"zero":false},"axis":null},"y":{"field":"y","type":"quantitative","scale":{"domain":[0,2000],"nice":false},"axis":{"title":"Position (kb)","values":[0,500,1000,1500,2000],"format":",.0f","grid":false,"domainColor":"#222","tickColor":"#222","tickSize":10,"labelFontSize":12,"labelColor":"#222","labelPadding":3,"labelFlush":false,"labelFont":"DejaVu Sans","titleFont":"DejaVu Sans","titleFontSize":15,"titleFontWeight":"normal","titleColor":"#111","titlePadding":6}},"text":{"field":"lab"}}}
]}
],
"resolve":{"scale":{"x":"independent"}}
}
